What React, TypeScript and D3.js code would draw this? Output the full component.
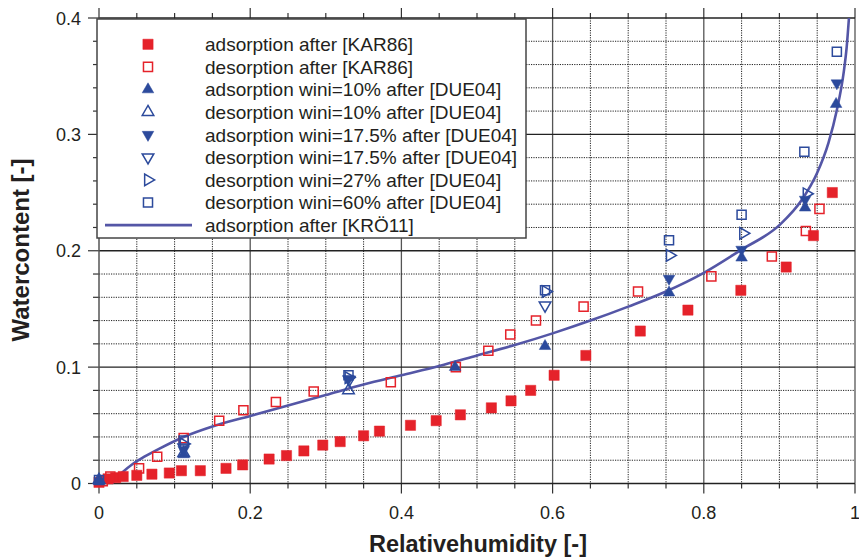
import React from "react";
import * as d3 from "d3";

const W = 859;
const H = 557;

const xTicks = [0, 0.2, 0.4, 0.6, 0.8, 1];
const yTicks = [0, 0.1, 0.2, 0.3, 0.4];
const xTickLabels = ["0", "0.2", "0.4", "0.6", "0.8", "1"];
const yTickLabels = ["0", "0.1", "0.2", "0.3", "0.4"];

const adsKAR86: [number, number][] = [
  [0.0, 0.001], [0.012, 0.004], [0.022, 0.005], [0.032, 0.006], [0.05, 0.007], [0.07, 0.008],
  [0.093, 0.009], [0.109, 0.011], [0.134, 0.011], [0.168, 0.013], [0.19, 0.016], [0.225, 0.021],
  [0.248, 0.024], [0.271, 0.028], [0.296, 0.033], [0.319, 0.036], [0.35, 0.041], [0.371, 0.045],
  [0.412, 0.05], [0.446, 0.054], [0.478, 0.059], [0.519, 0.065], [0.545, 0.071], [0.571, 0.08],
  [0.602, 0.093], [0.644, 0.11], [0.716, 0.131], [0.779, 0.149], [0.849, 0.166], [0.909, 0.186],
  [0.945, 0.213], [0.97, 0.25],
];
const desKAR86: [number, number][] = [
  [0.005, 0.002], [0.015, 0.006], [0.053, 0.013], [0.077, 0.023], [0.112, 0.039], [0.159, 0.054],
  [0.191, 0.063], [0.234, 0.07], [0.284, 0.079], [0.386, 0.087], [0.472, 0.1], [0.515, 0.114],
  [0.544, 0.128], [0.578, 0.14], [0.641, 0.152], [0.713, 0.165], [0.81, 0.178], [0.89, 0.195],
  [0.935, 0.217], [0.953, 0.236],
];
const ads10: [number, number][] = [
  [0.0, 0.002], [0.112, 0.025], [0.471, 0.1], [0.59, 0.118], [0.754, 0.164], [0.85, 0.194],
  [0.934, 0.237], [0.975, 0.326],
];
const des10: [number, number][] = [[0.0, 0.003], [0.112, 0.026], [0.33, 0.08]];
const ads175: [number, number][] = [
  [0.112, 0.029], [0.33, 0.09], [0.754, 0.176], [0.85, 0.201], [0.934, 0.244], [0.976, 0.344],
];
const des175: [number, number][] = [[0.112, 0.031], [0.331, 0.089], [0.59, 0.153]];
const des27: [number, number][] = [
  [0.112, 0.034], [0.33, 0.091], [0.591, 0.165], [0.755, 0.196], [0.852, 0.215], [0.936, 0.249],
];
const des60: [number, number][] = [
  [0.0, 0.003], [0.112, 0.037], [0.33, 0.093], [0.59, 0.166], [0.754, 0.209], [0.85, 0.231],
  [0.933, 0.285], [0.976, 0.371],
];
const kro11: [number, number][] = [
  [0.017, 0.0], [0.03, 0.009], [0.045, 0.017], [0.06, 0.023], [0.08, 0.03], [0.112, 0.04],
  [0.15, 0.049], [0.2, 0.058], [0.25, 0.067], [0.3, 0.076], [0.35, 0.085], [0.4, 0.093],
  [0.45, 0.101], [0.5, 0.11], [0.55, 0.119], [0.6, 0.129], [0.65, 0.14], [0.7, 0.152],
  [0.75, 0.165], [0.8, 0.181], [0.85, 0.201], [0.9, 0.222], [0.93, 0.244], [0.95, 0.267],
  [0.965, 0.293], [0.976, 0.321], [0.985, 0.353], [0.989, 0.375], [0.992, 0.4],
];

const legendLabels = [
  "adsorption after [KAR86]",
  "desorption after [KAR86]",
  "adsorption wini=10% after [DUE04]",
  "desorption wini=10% after [DUE04]",
  "adsorption wini=17.5% after [DUE04]",
  "desorption wini=17.5% after [DUE04]",
  "desorption wini=27% after [DUE04]",
  "desorption wini=60% after [DUE04]",
  "adsorption after [KRÖ11]",
];

const RED = "#e5222a";
const BLUE = "#2c4a9c";
const LINE = "#5456a6";
const TXT = "#231f20";
const FONT = "'Liberation Sans', Arial, sans-serif";

type MarkerKind = "sq" | "tri" | "down" | "right";
interface SeriesDef {
  data: [number, number][];
  kind: MarkerKind;
  color: string;
  filled: boolean;
}
const seriesDefs: SeriesDef[] = [
  { data: adsKAR86, kind: "sq", color: RED, filled: true },
  { data: desKAR86, kind: "sq", color: RED, filled: false },
  { data: ads10, kind: "tri", color: BLUE, filled: true },
  { data: des10, kind: "tri", color: BLUE, filled: false },
  { data: ads175, kind: "down", color: BLUE, filled: true },
  { data: des175, kind: "down", color: BLUE, filled: false },
  { data: des27, kind: "right", color: BLUE, filled: false },
  { data: des60, kind: "sq", color: BLUE, filled: false },
];

const sqPath = d3.symbol().type(d3.symbolSquare).size(105)() as string;
const sqOpenPath = d3.symbol().type(d3.symbolSquare).size(82)() as string;
const triPath = d3.symbol().type(d3.symbolTriangle).size(58)() as string;

function Marker({ kind, color, filled, x, y }: { kind: MarkerKind; color: string; filled: boolean; x: number; y: number }) {
  const rot = kind === "down" ? 180 : kind === "right" ? 90 : 0;
  const d = kind === "sq" ? (filled ? sqPath : sqOpenPath) : triPath;
  return (
    <path
      d={d}
      transform={`translate(${x},${y}) rotate(${rot})`}
      fill={filled ? color : "none"}
      stroke={color}
      strokeWidth={filled ? 0.5 : 1.5}
    />
  );
}

export default function App() {
  const x0 = 99, x1 = 855, yb = 483.5, yt = 18;
  const x = d3.scaleLinear().domain([0, 1]).range([x0, x1]);
  const y = d3.scaleLinear().domain([0, 0.4]).range([yb, yt]);

  const minorX = d3.range(0, 1.0001, 0.05);
  const minorY = d3.range(0, 0.4001, 0.02);
  const isMajorX = (v: number) => Math.abs(v * 5 - Math.round(v * 5)) < 1e-6;
  const isMajorY = (v: number) => Math.abs(v * 10 - Math.round(v * 10)) < 1e-6;

  const line = d3
    .line<[number, number]>()
    .x((d) => x(d[0]))
    .y((d) => y(d[1]))
    .curve(d3.curveMonotoneX);

  const legX = 97, legY = 19, legW = 429, legH = 219;
  const rowY0 = 44.3, rowDy = 22.6;

  return (
    <svg width={W} height={H} style={{ position: "absolute", left: 0, top: 0, background: "#fff" }} fontFamily={FONT}>
      <rect x={0} y={0} width={W} height={H} fill="#fff" />
      {/* grid */}
      {minorX.map((v, i) => {
        const major = isMajorX(v);
        return (
          <g key={"gx" + i}>
            {v > 0 && (
              <line
                x1={x(v)} x2={x(v)} y1={yt} y2={yb}
                stroke={major ? "#555" : "#222"}
                strokeWidth={major ? 1.3 : 1}
                strokeDasharray={major ? undefined : "1.2,1.2"}
              />
            )}
            <line x1={x(v)} x2={x(v)} y1={yb} y2={yb + (major ? 10 : 5)} stroke="#333" strokeWidth={1.2} />
            <line x1={x(v)} x2={x(v)} y1={yt} y2={yt - (major ? 10 : 5)} stroke="#333" strokeWidth={1.2} />
          </g>
        );
      })}
      {minorY.map((v, i) => {
        const major = isMajorY(v);
        return (
          <g key={"gy" + i}>
            {v > 0 && (
              <line
                x1={x0} x2={x1} y1={y(v)} y2={y(v)}
                stroke="#222"
                strokeWidth={major ? 1.3 : 1}
                strokeDasharray={major ? undefined : "1.2,1.2"}
              />
            )}
            <line x1={x0} x2={x0 - (major ? 11 : 6)} y1={y(v)} y2={y(v)} stroke="#333" strokeWidth={1.2} />
          </g>
        );
      })}
      {/* axes */}
      <line x1={x0} x2={x0} y1={yt - 1} y2={yb + 1} stroke="#555" strokeWidth={1.5} />
      <line x1={x0} x2={x1} y1={yb} y2={yb} stroke="#222" strokeWidth={1.5} />

      {/* curve */}
      <path d={line(kro11) as string} fill="none" stroke={LINE} strokeWidth={2.6} />

      {/* markers */}
      {seriesDefs.map((s, si) => (
        <g key={"s" + si}>
          {s.data.map((d, i) => (
            <Marker key={i} kind={s.kind} color={s.color} filled={s.filled} x={x(d[0])} y={y(d[1])} />
          ))}
        </g>
      ))}

      {/* tick labels */}
      {xTicks.map((v, i) => (
        <text key={"xt" + i} x={x(v)} y={519} textAnchor="middle" fontSize={18} fill={TXT}>
          {xTickLabels[i]}
        </text>
      ))}
      {yTicks.map((v, i) => (
        <text key={"yt" + i} x={81} y={y(v) + 6.5} textAnchor="end" fontSize={18} fill={TXT}>
          {yTickLabels[i]}
        </text>
      ))}

      {/* axis titles */}
      <text x={478} y={552} textAnchor="middle" fontSize={23.5} fontWeight="bold" fill={TXT}>
        Relativehumidity [-]
      </text>
      <text
        transform={`translate(29,250) rotate(-90)`}
        textAnchor="middle"
        fontSize={24}
        fontWeight="bold"
        fill={TXT}
      >
        Watercontent [-]
      </text>

      {/* legend */}
      <rect x={legX} y={legY} width={legW} height={legH} fill="#fff" stroke="#444" strokeWidth={1.5} />
      {legendLabels.map((lab, i) => {
        const ry = rowY0 + i * rowDy;
        const s = seriesDefs[i];
        return (
          <g key={"lg" + i}>
            {s ? (
              <Marker kind={s.kind} color={s.color} filled={s.filled} x={148} y={ry} />
            ) : (
              <line x1={105} x2={192} y1={ry} y2={ry} stroke={LINE} strokeWidth={2.6} />
            )}
            <text x={205} y={ry + 6.8} fontSize={19} fill={TXT}>
              {lab}
            </text>
          </g>
        );
      })}
    </svg>
  );
}
